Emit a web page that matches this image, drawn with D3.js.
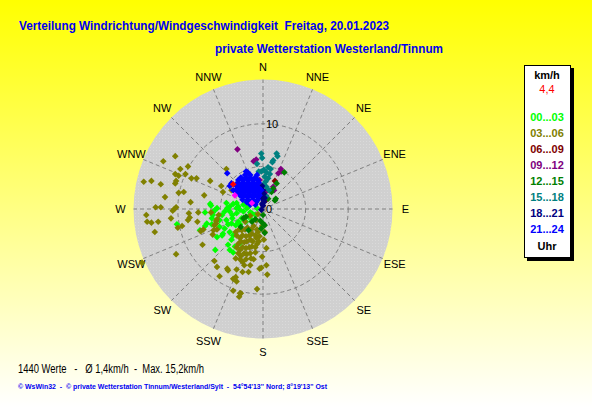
<!DOCTYPE html>
<html>
<head>
<meta charset="utf-8">
<script src="https://cdn.jsdelivr.net/npm/d3@7"></script>
<style>
  body { margin: 0; padding: 0; overflow: hidden; }
  svg { display: block; }
</style>
</head>
<body>
<div id="chart"></div>
<script>
// Werte je Zeitraum: [Ost-Komponente, Nord-Komponente] in km/h
const h00_03 = [[-6.2,0.6],[-6.1,0.4],[-5.9,-0.4],[-5.9,-0.7],[-4.3,0.7],[-3.9,0.3],[-3.1,0.7],[-2.3,0.5],[-1.7,0.3],[-0.7,0.1],
  [-3.5,0.6],[-2.9,0.3],[-2.1,0.7],[-4.5,-0.3],[-3.9,-0.3],[-3.1,-0.5],[-2.3,-0.3],[-10.1,-1.8],[-6.6,-1.7],[-6.8,-2.0],
  [-7.4,-2.5],[-5.4,-3.3],[-4.7,-2.9],[-3.9,-2.7],[-3.5,-3.1],[-3.7,-3.6],[-4.1,-4.2],[-3.9,-4.8],[-3.3,-4.4],[-2.7,-4.0],
  [-5.6,-4.8],[-4.3,-1.3],[-3.7,-1.7],[-2.9,-1.5],[-2.3,-1.1],[-1.7,-0.9],[-1.3,-0.5],[-5.1,-2.1],[-4.5,-2.3],[-6.8,-0.4],
  [-5.6,-0.1],[-4.8,-0.7],[-3.6,-0.7],[-2.7,-0.1],[-1.5,-0.4],[-0.9,-0.7],[-5.1,-1.3],[-3.2,-1.9],[-2.0,-1.5],[-1.3,-1.3],
  [-4.8,-3.1],[-3.5,-5.1],[-5.4,0.1],[-4.2,0.1],[-3.1,0.1],[-1.9,0.1],[-6.0,-1.1],[-3.6,-1.1],[-2.5,-1.1],[-6.0,-1.8],
  [-4.1,-1.8],[-2.7,-1.8]];
const h03_06 = [[-10.3,6.2],[-11.7,5.6],[-9.7,4.7],[-8.8,5.0],[-10.3,4.1],[-9.9,3.9],[-9.1,4.1],[-14.0,3.2],[-13.1,3.3],[-12.0,2.9],
  [-10.2,3.3],[-10.3,3.0],[-8.4,3.6],[-7.8,3.6],[-6.2,3.3],[-4.3,4.7],[-4.9,2.7],[-9.3,2.0],[-9.9,1.9],[-11.5,1.4],
  [-6.9,1.6],[-4.7,2.0],[-8.5,0.8],[-10.2,0.2],[-10.4,0.0],[-10.6,-0.2],[-12.6,0.2],[-12.0,0.2],[-13.7,-0.7],[-8.7,-0.5],
  [-7.6,-0.4],[-13.6,-1.5],[-13.1,-1.6],[-12.3,-1.5],[-10.8,-1.1],[-8.8,-1.3],[-9.5,-2.0],[-10.0,-2.2],[-7.7,-1.5],[-5.5,-1.4],
  [-5.7,-1.9],[-5.2,-0.7],[-3.7,2.2],[-14.2,-6.3],[-12.7,-2.7],[-10.2,-5.3],[-8.6,-1.0],[-7.3,-2.6],[-7.1,-4.2],[-5.5,-1.7],
  [-5.4,-1.2],[-5.9,-3.0],[-5.4,-2.4],[-5.7,-6.1],[-5.4,-6.8],[-4.2,-7.0],[-4.1,-7.2],[-5.1,-7.9],[-3.2,-8.0],[-3.1,-8.5],
  [-2.4,-7.4],[-1.7,-7.4],[-0.7,-9.4],[0.4,-6.6],[0.2,-2.7],[-0.4,-7.0],[-2.7,-9.9],[-2.8,-10.3],[-3.1,-7.1],[-3.5,-8.2],
  [-0.2,-6.9],[-3.5,-9.6],[-2.6,-9.9],[-0.1,-5.6],[-6.1,-0.4],[-5.8,-2.5],[-7.0,-2.4],[0.5,-7.7],[0.1,-3.6],[0.4,-4.6],
  [-3.2,-2.7],[-2.5,-2.5],[-1.8,-2.2],[-1.1,-2.0],[-2.7,-3.4],[-2.0,-3.2],[-1.3,-2.9],[-0.6,-2.7],[-2.9,-4.1],[-2.2,-3.9],
  [-1.5,-3.6],[-0.8,-3.4],[-2.7,-4.8],[-2.0,-4.6],[-1.3,-4.4],[-2.6,-5.5],[-1.9,-5.3],[-3.2,-5.8],[-2.4,-6.2],[-1.4,-5.8],
  [-0.9,-5.1],[-0.7,-4.1],[-0.4,-3.2],[-0.1,-2.0],[-0.8,-1.3],[-1.5,-0.8],[-0.6,-0.6],[-2.1,-1.5],
  [-2.8,-2.4],[-2.1,-2.4],[-1.4,-2.4],[-0.7,-2.4],[-3.1,-3.1],[-2.4,-3.1],[-1.6,-3.1],[-0.9,-3.1],[-2.6,-3.8],[-1.9,-3.8],
  [-1.2,-3.8],[-0.5,-3.8],[-3.1,-4.5],[-2.4,-4.5],[-1.6,-4.5],[-0.9,-4.5],[-2.9,-5.2],[-2.2,-5.2],[-1.5,-5.2],[-2.7,-5.9],
  [-2.0,-5.9],[-1.1,-5.9],[-2.2,-6.6],[-1.5,-6.6]];
const h06_09 = [[1.4,3.3],[-0.1,2.6],[0.4,1.1]];
const h09_12 = [[-3.0,7.0],[-1.1,5.6],[-0.8,5.8],[2.1,4.7],[2.2,4.4],[1.8,4.2],[1.2,2.6],[1.3,2.2],[-0.4,3.4],[-0.7,2.9],
  [0.4,2.1],[-0.6,3.0],[-0.2,2.6]];
const h12_15 = [[2.5,4.3],[1.6,3.0],[1.5,1.2],[1.4,1.0],[1.2,2.4],[1.0,2.0],[0.6,1.2],[0.0,-0.7],[0.0,-1.7],[0.2,-2.8],
  [-0.3,-1.4],[-2.0,-0.9],[-0.9,-1.2],[-1.3,-1.5],[-2.6,-2.1],[-2.3,-1.1],[-1.7,-2.5],[-2.4,2.1],[0.2,-1.9],[-0.2,-2.3]];
const h15_18 = [[-0.2,6.5],[-0.1,6.0],[-0.7,5.3],[-0.5,4.4],[-0.2,4.4],[0.1,4.6],[0.4,4.3],[1.6,6.5],[1.7,6.2],[1.1,5.5],
  [0.6,4.9],[0.9,4.7],[0.3,3.2],[0.0,2.8],[0.4,2.6],[0.7,2.2],[0.4,1.5],[0.6,3.6],[0.2,3.8],[1.2,5.7],[0.8,4.1],[0.0,1.5]];
const h18_21 = [[0.0,2.2],[0.1,1.8],[-0.1,1.3],[0.1,0.8],[0.0,0.4],[-0.1,2.7],[0.2,1.3],[-0.2,-0.1],[0.1,1.0],[-0.1,0.6]];
const h21_24 = [[-2.1,4.0],[-1.5,4.0],[-2.9,3.4],[-2.4,3.4],[-1.8,3.4],[-1.2,3.4],[-3.2,2.8],[-2.6,2.8],[-2.0,2.8],[-1.4,2.8],
  [-0.8,2.8],[-3.2,2.2],[-2.6,2.2],[-2.0,2.2],[-1.4,2.2],[-0.8,2.2],[-0.2,2.2],[-2.7,1.6],[-2.1,1.6],[-1.5,1.6],
  [-0.9,1.6],[-0.4,1.6],[-2.4,1.1],[-1.8,1.1],[-1.2,1.1],[-0.6,1.1],[-1.5,0.5],[-0.9,0.5],[-4.2,4.2],[-3.7,3.0],
  [-3.5,2.2],[-2.0,4.4],[-3.9,2.7],[-0.6,3.4],[-0.7,4.0],
  [-2.6,3.7],[-2.0,3.7],[-1.5,3.7],[-0.9,3.7],[-2.9,3.1],[-2.3,3.1],[-1.7,3.1],[-1.1,3.1],[-0.5,3.1],[-2.9,2.5],
  [-2.3,2.5],[-1.7,2.5],[-1.1,2.5],[-0.5,2.5],[-2.9,1.9],[-2.3,1.9],[-1.7,1.9],[-1.1,1.9],[-0.5,1.9],[-2.4,1.4],
  [-1.8,1.4],[-1.2,1.4],[-0.6,1.4],[-1.9,0.8],[-1.4,0.8],[-0.8,0.8],[-1.8,4.3]];
const magentaPts = [[-3.3,1.6],[-1.3,0.7]];
const lastValue = [[-3.5,2.9]];

const groups = [
  { label: "00...03", color: "#00ff00", pts: h00_03 },
  { label: "03...06", color: "#808000", pts: h03_06 },
  { label: "06...09", color: "#800000", pts: h06_09 },
  { label: "09...12", color: "#800080", pts: h09_12 },
  { label: "12...15", color: "#008000", pts: h12_15 },
  { label: "15...18", color: "#008080", pts: h15_18 },
  { label: "18...21", color: "#000080", pts: h18_21 },
  { label: "21...24", color: "#0000ff", pts: h21_24 }
];
const directions = ["N","NNE","NE","ENE","E","ESE","SE","SSE","S","SSW","SW","WSW","W","WNW","NW","NNW"];
const rings = [5, 10];
const ringLabels = [0, 10];
const maxSpeed = 15.2;

// SVG
const W = 592, H = 407;
const cx = 263, cy = 209, R = 129.5;
const font = "Arial, 'Liberation Sans', sans-serif";

const svg = d3.select("#chart").append("svg")
  .attr("width", W).attr("height", H);

const defs = svg.append("defs");
const grad = defs.append("linearGradient").attr("id", "bg")
  .attr("x1", 0).attr("y1", 0).attr("x2", 0).attr("y2", 1);
grad.append("stop").attr("offset", "0%").attr("stop-color", "#ffff00");
grad.append("stop").attr("offset", "100%").attr("stop-color", "#ffffff");

const pat = defs.append("pattern").attr("id", "dots")
  .attr("width", 3).attr("height", 3).attr("patternUnits", "userSpaceOnUse");
pat.append("rect").attr("width", 3).attr("height", 3).attr("fill", "#d0d0d0");
pat.append("rect").attr("x", 1).attr("y", 1).attr("width", 1).attr("height", 1).attr("fill", "#dadada");

svg.append("rect").attr("width", W).attr("height", H).attr("fill", "url(#bg)");

// SCALE
const r = d3.scaleLinear().domain([0, maxSpeed]).range([0, R]);

const g = svg.append("g").attr("transform", `translate(${cx},${cy})`);

g.append("circle").attr("r", r(maxSpeed)).attr("fill", "url(#dots)");

// rings
g.selectAll("circle.ring").data(rings).enter().append("circle")
  .attr("class", "ring")
  .attr("r", d => r(d))
  .attr("fill", "none")
  .attr("stroke", "#808080")
  .attr("stroke-dasharray", "4,3");

// spokes
g.selectAll("line.spoke").data(directions).enter().append("line")
  .attr("class", "spoke")
  .attr("x1", 0).attr("y1", 0)
  .attr("x2", (d, i) => r(maxSpeed) * Math.sin(i * Math.PI / 8))
  .attr("y2", (d, i) => -r(maxSpeed) * Math.cos(i * Math.PI / 8))
  .attr("stroke", "#808080")
  .attr("stroke-dasharray", "4,3");

// compass labels
g.selectAll("text.dir").data(directions).enter().append("text")
  .attr("class", "dir")
  .attr("x", (d, i) => (r(maxSpeed) + 13) * Math.sin(i * Math.PI / 8))
  .attr("y", (d, i) => -(r(maxSpeed) + 13) * Math.cos(i * Math.PI / 8) + 4)
  .attr("text-anchor", "middle")
  .style("font-family", font)
  .style("font-size", "11px")
  .attr("fill", "#000")
  .text(d => d);

// POINTS
const diamond = d3.symbol().type(d3.symbolSquare).size(22);
function drawPts(pts, color) {
  g.append("g").selectAll("path").data(pts).enter().append("path")
    .attr("d", diamond)
    .attr("transform", d => `translate(${r(d[0])},${-r(d[1])}) rotate(45)`)
    .attr("fill", color);
}
groups.forEach(gr => drawPts(gr.pts, gr.color));
drawPts(magentaPts, "#ff00ff");
drawPts(lastValue, "#ff0000");

// ring labels
g.selectAll("text.rl").data(ringLabels).enter().append("text")
  .attr("class", "rl")
  .attr("x", 3)
  .attr("y", d => -r(d) + 4)
  .style("font-family", font)
  .style("font-size", "11px")
  .attr("fill", "#000")
  .text(d => d);

// TITLE
svg.append("text").attr("x", 19).attr("y", 30)
  .attr("textLength", 370).attr("lengthAdjust", "spacingAndGlyphs")
  .style("font-family", font).style("font-size", "13.5px").style("font-weight", "bold")
  .style("white-space", "pre")
  .attr("fill", "#0000f0")
  .text("Verteilung Windrichtung/Windgeschwindigkeit  Freitag, 20.01.2023");
svg.append("text").attr("x", 215).attr("y", 53)
  .attr("textLength", 228).attr("lengthAdjust", "spacingAndGlyphs")
  .style("font-family", font).style("font-size", "13.5px").style("font-weight", "bold")
  .attr("fill", "#0000f0")
  .text("private Wetterstation Westerland/Tinnum");

// LEGEND
svg.append("rect").attr("x", 527).attr("y", 68).attr("width", 47).attr("height", 193).attr("fill", "#000");
svg.append("rect").attr("x", 524.5).attr("y", 65.5).attr("width", 46).attr("height", 192)
  .attr("fill", "#fff").attr("stroke", "#000");
const lx = 547;
svg.append("text").attr("x", lx).attr("y", 79).attr("text-anchor", "middle")
  .style("font-family", font).style("font-size", "11px").style("font-weight", "bold")
  .text("km/h");
svg.append("text").attr("x", lx).attr("y", 93).attr("text-anchor", "middle")
  .style("font-family", font).style("font-size", "11px").attr("fill", "#ff0000")
  .text("4,4");
svg.selectAll("text.leg").data(groups).enter().append("text")
  .attr("class", "leg")
  .attr("x", lx).attr("y", (d, i) => 121 + i * 16)
  .attr("text-anchor", "middle")
  .style("font-family", font).style("font-size", "11px").style("font-weight", "bold")
  .attr("fill", d => d.color)
  .text(d => d.label);
svg.append("text").attr("x", lx).attr("y", 250).attr("text-anchor", "middle")
  .style("font-family", font).style("font-size", "11px").style("font-weight", "bold")
  .text("Uhr");

// FOOTER
svg.append("text").attr("x", 18).attr("y", 373)
  .attr("textLength", 186).attr("lengthAdjust", "spacingAndGlyphs")
  .style("font-family", font).style("font-size", "12px")
  .attr("fill", "#000")
  .style("white-space", "pre")
  .text("1440 Werte   -   Ø 1,4km/h  -  Max. 15,2km/h");
svg.append("text").attr("x", 18).attr("y", 389)
  .attr("textLength", 309).attr("lengthAdjust", "spacingAndGlyphs")
  .style("font-family", font).style("font-size", "8px").style("font-weight", "bold")
  .attr("fill", "#0000f0")
  .style("white-space", "pre")
  .text("© WsWin32  -  © private Wetterstation Tinnum/Westerland/Sylt  -  54°54'13'' Nord; 8°19'13'' Ost");
</script>
</body>
</html>
